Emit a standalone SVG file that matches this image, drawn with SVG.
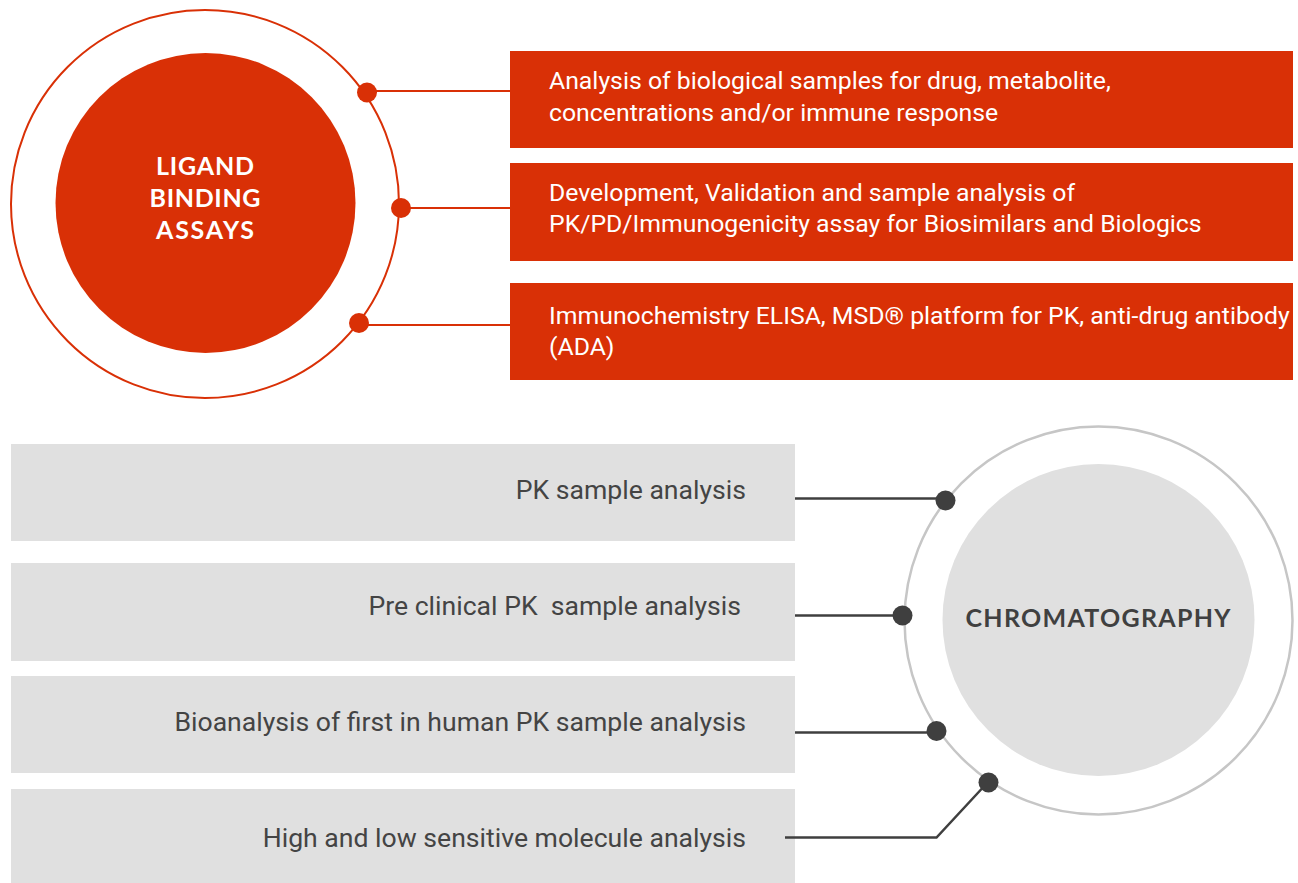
<svg xmlns="http://www.w3.org/2000/svg" width="1298" height="883" viewBox="0 0 1298 883">
  <defs>
    <style>
      .red-box { fill: #D93006; }
      .grey-box { fill: #E0E0E0; }
      .red-text { font-family: Roboto, "Liberation Sans", sans-serif; font-size: 24.8px; fill: #FFFFFF; }
      .grey-text { font-family: Roboto, "Liberation Sans", sans-serif; font-size: 26.6px; fill: #444444; text-anchor: end; white-space: pre; }
      .hub-title { font-family: Lato, "Liberation Sans", sans-serif; font-weight: 700; font-size: 25px; text-anchor: middle; }
      .red-link { stroke: #D93006; stroke-width: 2; fill: none; }
      .grey-link { stroke: #3F3F3F; stroke-width: 2.5; fill: none; }
      .red-dot { fill: #D93006; }
      .grey-dot { fill: #3F3F3F; }
    </style>
  </defs>

  <!-- Ligand binding assays hub -->
  <g id="hub-ligand">
    <circle cx="205" cy="204" r="194" fill="#FFFFFF" stroke="#D93006" stroke-width="2"/>
    <circle cx="205.5" cy="203" r="150" fill="#D93006"/>
    <text class="hub-title" fill="#FFFFFF" x="205" y="175" textLength="98" lengthAdjust="spacing">LIGAND</text>
    <text class="hub-title" fill="#FFFFFF" x="205" y="207" textLength="111" lengthAdjust="spacing">BINDING</text>
    <text class="hub-title" fill="#FFFFFF" x="205" y="239" textLength="98" lengthAdjust="spacing">ASSAYS</text>
  </g>

  <!-- Chromatography hub -->
  <g id="hub-chromatography">
    <circle cx="1098.5" cy="620.5" r="194" fill="#FFFFFF" stroke="#C6C6C6" stroke-width="2.5"/>
    <circle cx="1098.5" cy="620" r="156" fill="#E0E0E0"/>
    <text class="hub-title" fill="#404040" x="1098" y="627" textLength="265" lengthAdjust="spacing">CHROMATOGRAPHY</text>
  </g>

  <!-- Ligand binding assay services -->
  <g id="lba-1">
    <rect class="red-box" x="510" y="51" width="783" height="97"/>
    <text class="red-text" x="549" y="89">Analysis of biological samples for drug, metabolite,</text>
    <text class="red-text" x="549" y="121">concentrations and/or immune response</text>
  </g>
  <g id="lba-2">
    <rect class="red-box" x="510" y="163" width="783" height="98"/>
    <text class="red-text" x="549" y="201">Development, Validation and sample analysis of</text>
    <text class="red-text" x="549" y="232">PK/PD/Immunogenicity assay for Biosimilars and Biologics</text>
  </g>
  <g id="lba-3">
    <rect class="red-box" x="510" y="283" width="783" height="97"/>
    <text class="red-text" x="549" y="324">Immunochemistry ELISA, MSD® platform for PK, anti-drug antibody</text>
    <text class="red-text" x="549" y="355">(ADA)</text>
  </g>

  <!-- Chromatography services -->
  <g id="chrom-1">
    <rect class="grey-box" x="11" y="444" width="784" height="97"/>
    <text class="grey-text" x="746" y="499">PK sample analysis</text>
  </g>
  <g id="chrom-2">
    <rect class="grey-box" x="11" y="563" width="784" height="98"/>
    <text class="grey-text" x="741" y="615">Pre clinical PK  sample analysis</text>
  </g>
  <g id="chrom-3">
    <rect class="grey-box" x="11" y="676" width="784" height="97"/>
    <text class="grey-text" x="746" y="731">Bioanalysis of first in human PK sample analysis</text>
  </g>
  <g id="chrom-4">
    <rect class="grey-box" x="11" y="789" width="784" height="94"/>
    <text class="grey-text" x="746" y="847">High and low sensitive molecule analysis</text>
  </g>

  <!-- Connectors -->
  <g id="connectors">
    <path class="red-link" d="M367 91 H510"/>
    <path class="red-link" d="M401 208 H510"/>
    <path class="red-link" d="M359 325 H510"/>
    <circle class="red-dot" cx="367" cy="92.5" r="10"/>
    <circle class="red-dot" cx="401" cy="208" r="10"/>
    <circle class="red-dot" cx="359" cy="323" r="10"/>

    <path class="grey-link" d="M795 498.5 H946"/>
    <path class="grey-link" d="M795 615.5 H903"/>
    <path class="grey-link" d="M795 732.5 H937"/>
    <path class="grey-link" d="M785 837.5 H936.5 L988 782"/>
    <circle class="grey-dot" cx="945.5" cy="500.5" r="10"/>
    <circle class="grey-dot" cx="902.5" cy="615.5" r="10"/>
    <circle class="grey-dot" cx="936.5" cy="731" r="10"/>
    <circle class="grey-dot" cx="988.5" cy="782.5" r="10"/>
  </g>
</svg>
